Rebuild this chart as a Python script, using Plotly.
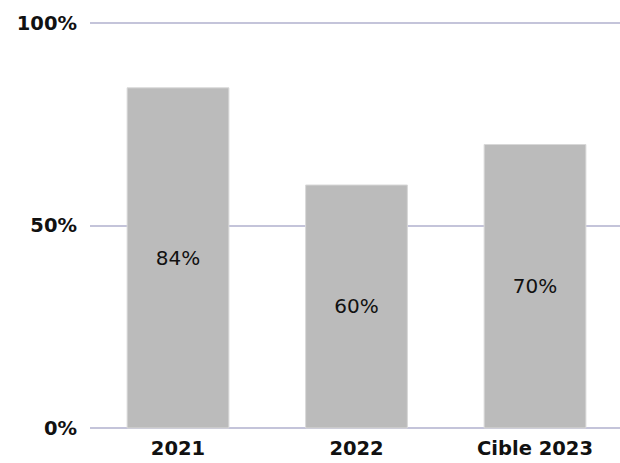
import plotly.graph_objects as go

categories = ["2021", "2022", "Cible 2023"]
values = [84, 60, 70]
labels = ["84%", "60%", "70%"]
y_ticks = [0, 50, 100]
y_tick_labels = ["0%", "50%", "100%"]

fig = go.Figure(go.Bar(
    x=categories, y=values, text=labels,
    textposition="inside", insidetextanchor="middle",
    textfont=dict(family="DejaVu Sans", size=20, color="#111111"),
    marker=dict(color="#bbbbbb", line=dict(width=1, color="#d8d8d8")),
    width=0.57,
))
fig.update_layout(
    width=620, height=463,
    margin=dict(l=90, r=0, t=21, b=33, pad=0),
    paper_bgcolor="white", plot_bgcolor="white",
    showlegend=False,
    uniformtext=dict(minsize=8, mode="show"),
)
fig.update_xaxes(
    range=[-0.493, 2.476], showgrid=False, zeroline=False, showline=False,
    ticks="", ticklabelstandoff=4,
    tickfont=dict(family="DejaVu Sans", size=19.5, color="#111111", weight="bold"),
)
fig.update_yaxes(
    range=[-0.5, 100.5], tickvals=y_ticks, ticktext=y_tick_labels,
    showgrid=True, gridcolor="#c4c4da", gridwidth=2, zeroline=False, showline=False,
    ticks="", ticklabelstandoff=12,
    tickfont=dict(family="DejaVu Sans", size=19.5, color="#111111", weight="bold"),
)
fig.write_html(
    "out.html",
    config={"displayModeBar": False},
    post_script="document.body.style.margin='0';document.documentElement.style.overflow='hidden';document.body.style.overflow='hidden';",
)
